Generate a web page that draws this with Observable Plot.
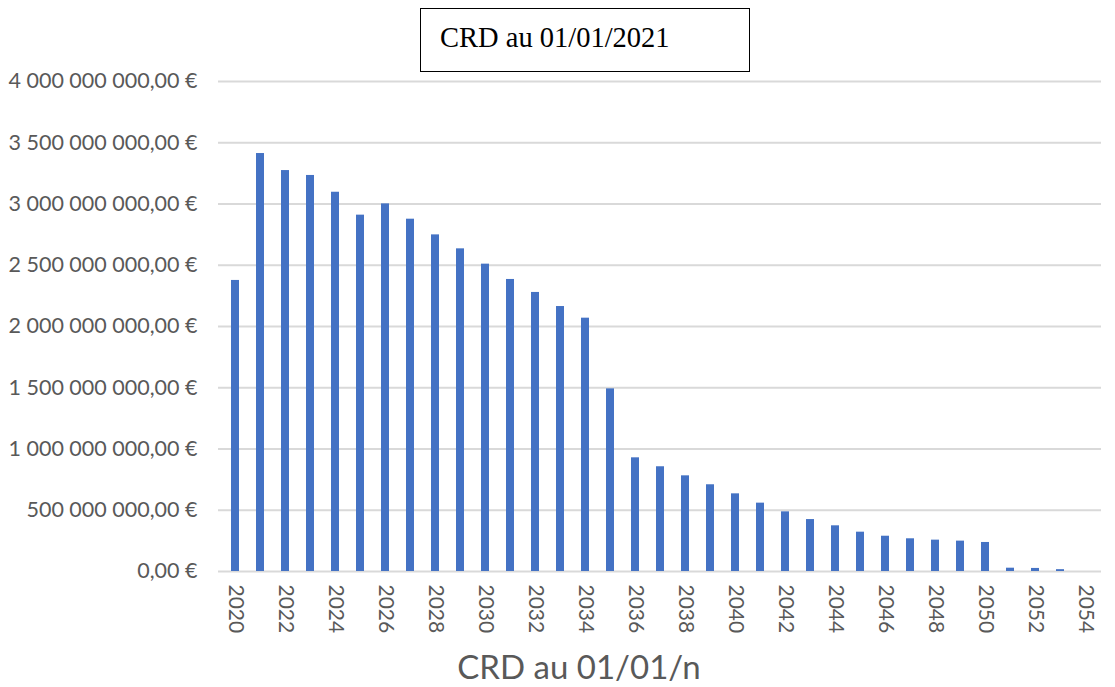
<!DOCTYPE html>
<html>
<head>
<meta charset="utf-8">
<script src="https://cdn.jsdelivr.net/npm/d3@7"></script>
<script src="https://cdn.jsdelivr.net/npm/@observablehq/plot@0.6"></script>
<style>
  html, body { margin: 0; padding: 0; background: #fff; }
  #wrap { position: relative; width: 1115px; height: 687px; }
  #title {
    position: absolute; left: 420px; top: 8px; width: 328px; height: 62px;
    border: 1px solid #000; box-sizing: content-box;
    font-family: "Liberation Serif", "Times New Roman", serif; font-size: 28.5px; color: #000;
  }
  #title span { position: absolute; left: 19px; top: 13px; }
  #xtitle {
    position: absolute; left: 0; width: 1158px; top: 646px; text-align: center;
    font-family: Lato, "Open Sans", sans-serif; font-size: 33px; color: #595959;
  }
</style>
</head>
<body>
<div id="wrap">
  <div id="chart"></div>
  <div id="title"><span>CRD au 01/01/2021</span></div>
  <div id="xtitle">CRD au 01/01/n</div>
</div>
<script>
const years = [2020,2021,2022,2023,2024,2025,2026,2027,2028,2029,2030,2031,2032,2033,2034,2035,2036,2037,2038,2039,2040,2041,2042,2043,2044,2045,2046,2047,2048,2049,2050,2051,2052,2053,2054];
const crd = [2376e6,3412e6,3273e6,3233e6,3096e6,2909e6,3001e6,2876e6,2748e6,2634e6,2509e6,2384e6,2278e6,2163e6,2068e6,1491e6,928e6,855e6,781e6,708e6,634e6,558e6,487e6,424e6,373e6,321e6,288e6,267e6,256e6,248e6,237e6,27e6,25e6,15e6,0];
const yTicks = [0,5e8,1e9,1.5e9,2e9,2.5e9,3e9,3.5e9,4e9];
const xTicks = years.filter((y, i) => i % 2 === 0);

const data = years.map((y, i) => ({year: y, value: crd[i]}));
const fmtEuro = v => d3.format(",")(v).replace(/,/g, " ") + ",00 €";

const chart = Plot.plot({
  width: 1115,
  height: 687,
  marginLeft: 218,
  marginRight: 14,
  marginTop: 81,
  marginBottom: 116,
  style: {fontFamily: "Lato, 'Open Sans', sans-serif", background: "#fff"},
  x: {type: "band", domain: years, paddingInner: 0.69, paddingOuter: 0.345},
  y: {domain: [0, 4e9]},
  marks: [
    Plot.gridY(yTicks, {stroke: "#d9d9d9", strokeOpacity: 1, strokeWidth: 1.8}),
    Plot.barY(data, {x: "year", y: "value", fill: "#4472C4"}),
    Plot.axisY(yTicks, {tickSize: 0, tickPadding: 21, tickFormat: fmtEuro, fontSize: 21.5, fill: "#595959", label: null}),
    Plot.axisX(xTicks, {tickSize: 0, tickRotate: 90, tickPadding: 13, tickFormat: d => String(d), fontSize: 21, fill: "#595959", textAnchor: "start", label: null})
  ]
});
document.getElementById("chart").appendChild(chart);
</script>
</body>
</html>
